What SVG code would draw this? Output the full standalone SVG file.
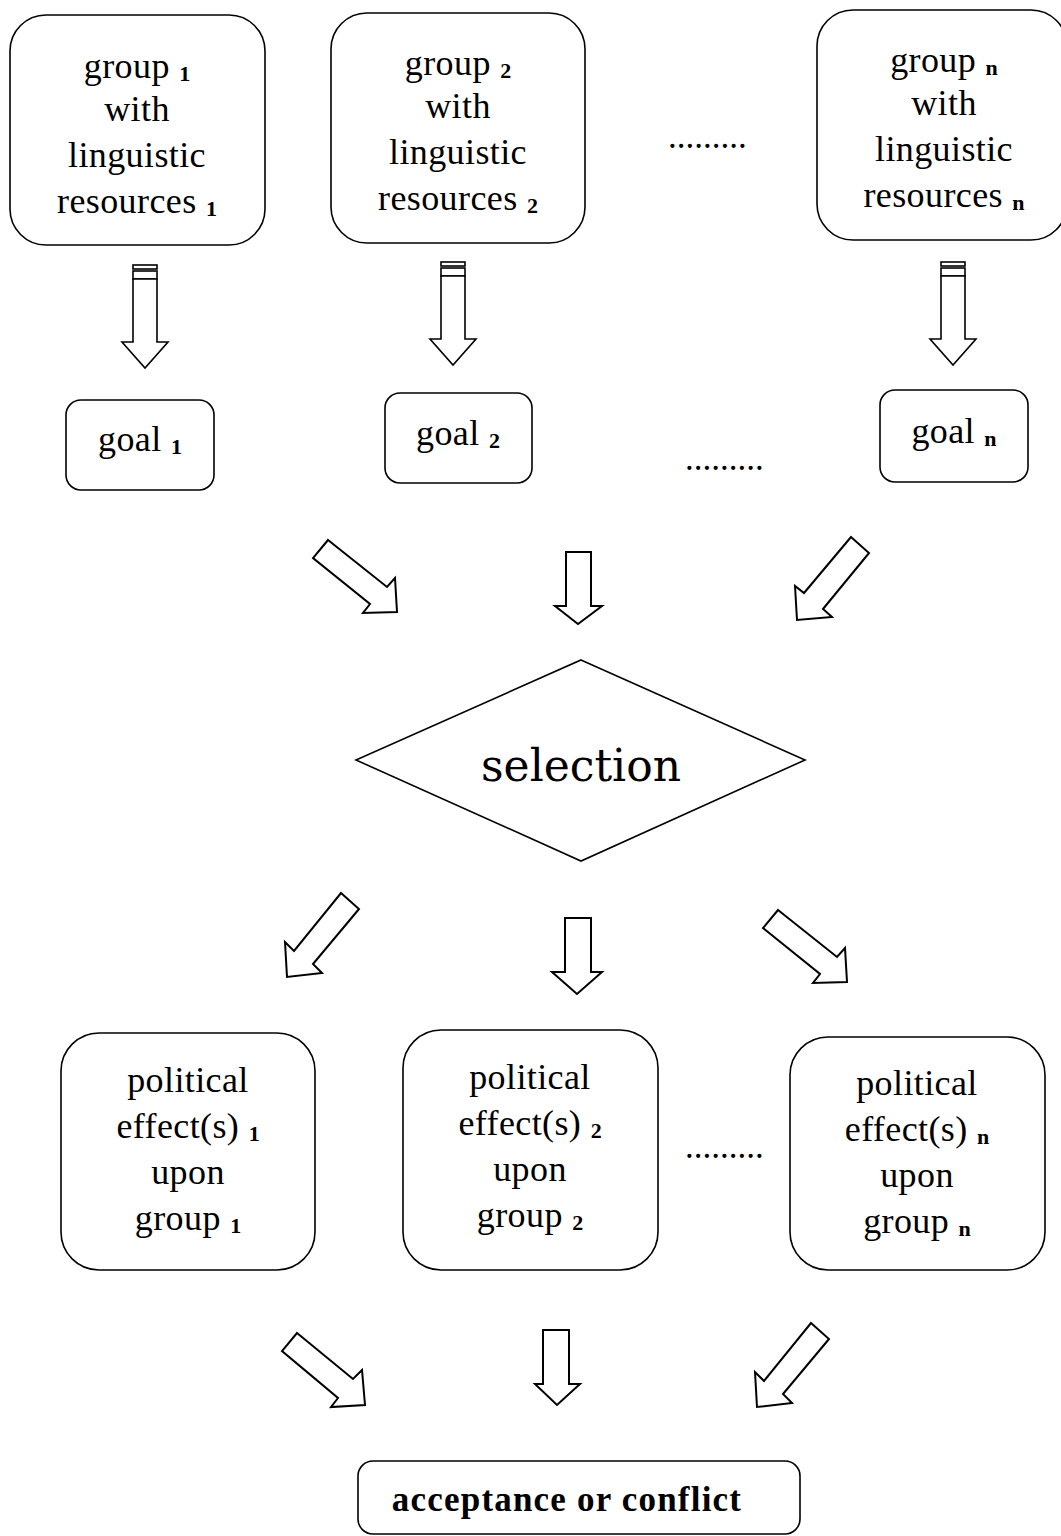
<svg xmlns="http://www.w3.org/2000/svg" width="1061" height="1536" viewBox="0 0 1061 1536">
<style>
.box{fill:#fff;stroke:#000;stroke-width:1.6}
.t{font-family:"Liberation Serif","Times New Roman",serif;font-size:36px;letter-spacing:0.4px;fill:#000;text-anchor:middle}
.sub{font-weight:bold;font-size:22px;letter-spacing:0}
.dots{font-family:"Liberation Serif","Times New Roman",serif;font-size:35px;fill:#000}
.arr{fill:#fff;stroke:#000;stroke-width:2;stroke-linejoin:miter}
.sarr{fill:#fff;stroke:#000;stroke-width:1.6}
.sel{font-family:"DejaVu Serif",serif;font-size:44px;fill:#000;text-anchor:middle}
.bold{font-family:"Liberation Serif","Times New Roman",serif;font-size:35px;letter-spacing:1.2px;font-weight:bold;fill:#000;text-anchor:middle}
</style>
<defs>
<g id="striped">
<rect class="sarr" x="-12" y="0" width="24" height="4"/>
<rect class="sarr" x="-12" y="6" width="24" height="8"/>
<polygon class="sarr" points="-12,14 -12,77 -23,77 0,103 23,77 12,77 12,14"/>
</g>
</defs>
<rect width="1061" height="1536" fill="#fff"/>

<g id="group1">
<rect class="box" x="10" y="15" width="255" height="230" rx="36"/>
<text class="t" x="137" y="78">group <tspan class="sub" dy="3">1</tspan></text>
<text class="t" x="137" y="121">with</text>
<text class="t" x="137" y="167">linguistic</text>
<text class="t" x="137" y="213">resources <tspan class="sub" dy="3">1</tspan></text>
</g>
<g id="group2">
<rect class="box" x="331" y="13" width="254" height="230" rx="36"/>
<text class="t" x="458" y="75">group <tspan class="sub" dy="3">2</tspan></text>
<text class="t" x="458" y="118">with</text>
<text class="t" x="458" y="164">linguistic</text>
<text class="t" x="458" y="210">resources <tspan class="sub" dy="3">2</tspan></text>
</g>
<g id="groupn">
<rect class="box" x="817" y="10" width="250" height="230" rx="36"/>
<text class="t" x="944" y="72">group <tspan class="sub" dy="3">n</tspan></text>
<text class="t" x="944" y="115">with</text>
<text class="t" x="944" y="161">linguistic</text>
<text class="t" x="944" y="207">resources <tspan class="sub" dy="3">n</tspan></text>
</g>
<g id="dots1"><text class="dots" x="668" y="148">.........</text></g>

<g id="goal1">
<rect class="box" x="66" y="400" width="148" height="90" rx="15"/>
<text class="t" x="140" y="451">goal <tspan class="sub" dy="3">1</tspan></text>
</g>
<g id="goal2">
<rect class="box" x="385" y="393" width="147" height="90" rx="15"/>
<text class="t" x="458" y="445">goal <tspan class="sub" dy="3">2</tspan></text>
</g>
<g id="goaln">
<rect class="box" x="880" y="390" width="148" height="92" rx="15"/>
<text class="t" x="954" y="443">goal <tspan class="sub" dy="3">n</tspan></text>
</g>
<g id="dots2"><text class="dots" x="685" y="470">.........</text></g>

<g id="selection">
<polygon class="box" points="581,660 805,760 581,861 356,760"/>
<text class="sel" x="581" y="781">selection</text>
</g>

<g id="effect1">
<rect class="box" x="61" y="1033" width="254" height="237" rx="38"/>
<text class="t" x="188" y="1092">political</text>
<text class="t" x="188" y="1138">effect(s) <tspan class="sub" dy="3">1</tspan></text>
<text class="t" x="188" y="1184">upon</text>
<text class="t" x="188" y="1230">group <tspan class="sub" dy="3">1</tspan></text>
</g>
<g id="effect2">
<rect class="box" x="403" y="1030" width="255" height="240" rx="38"/>
<text class="t" x="530" y="1089">political</text>
<text class="t" x="530" y="1135">effect(s) <tspan class="sub" dy="3">2</tspan></text>
<text class="t" x="530" y="1181">upon</text>
<text class="t" x="530" y="1227">group <tspan class="sub" dy="3">2</tspan></text>
</g>
<g id="effectn">
<rect class="box" x="790" y="1037" width="255" height="233" rx="38"/>
<text class="t" x="917" y="1095">political</text>
<text class="t" x="917" y="1141">effect(s) <tspan class="sub" dy="3">n</tspan></text>
<text class="t" x="917" y="1187">upon</text>
<text class="t" x="917" y="1233">group <tspan class="sub" dy="3">n</tspan></text>
</g>
<g id="dots3"><text class="dots" x="685" y="1158">.........</text></g>

<g id="result">
<rect class="box" x="358" y="1461" width="442" height="73" rx="15"/>
<text class="bold" x="567" y="1511">acceptance or conflict</text>
</g>

<g id="connectors">
<use href="#striped" transform="translate(145,265)"/>
<use href="#striped" transform="translate(453,262)"/>
<use href="#striped" transform="translate(953,262)"/>

<polygon class="arr" points="328,540 387,587 395,578 397,612 363,613 370,604 313,558"/>
<polygon class="arr" points="566,552 591,552 591,606 602,606 578,624 555,606 566,606"/>
<polygon class="arr" points="851,537 869,553 823,609 832,617 797,620 795,586 804,593"/>

<polygon class="arr" points="341,893 359,909 313,964 322,973 287,977 285,942 294,951"/>
<polygon class="arr" points="565,918 591,918 591,972 602,972 577,994 552,972 565,972"/>
<polygon class="arr" points="778,910 837,957 845,948 847,982 813,983 820,974 763,928"/>

<polygon class="arr" points="297,1333 353,1379 362,1370 365,1405 331,1407 338,1398 282,1351"/>
<polygon class="arr" points="543,1330 569,1330 569,1384 580,1384 557,1405 535,1384 543,1384"/>
<polygon class="arr" points="811,1323 829,1339 783,1394 792,1403 757,1407 755,1372 764,1381"/>
</g>
</svg>
